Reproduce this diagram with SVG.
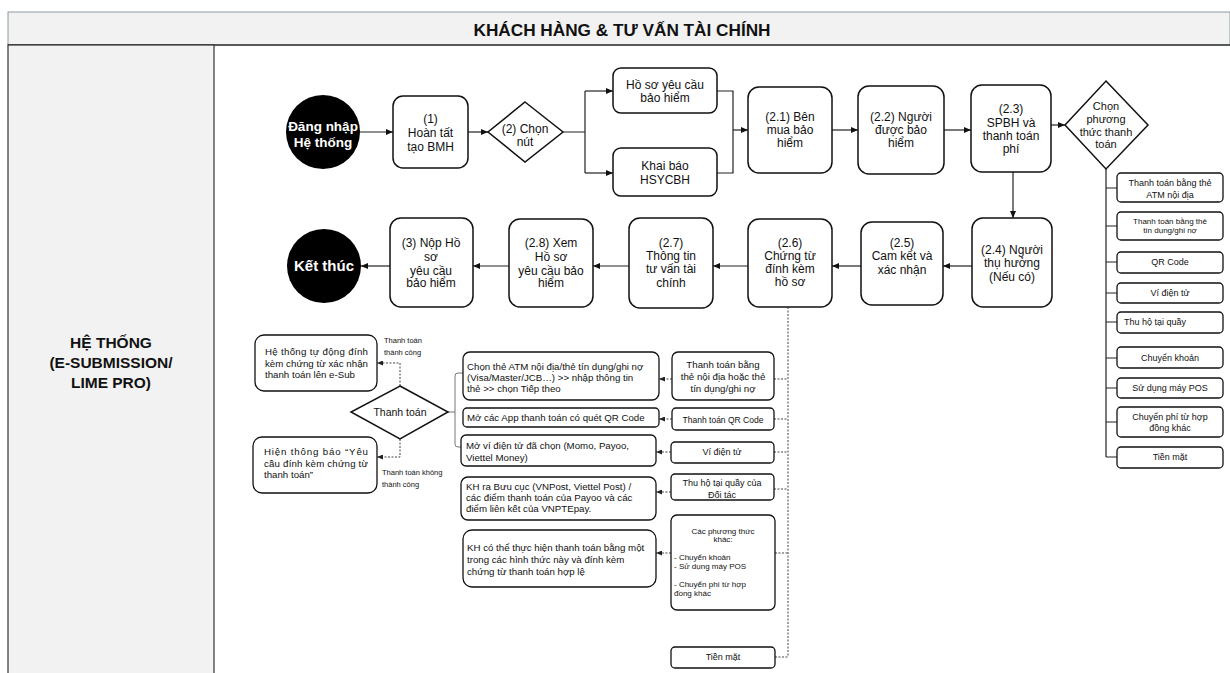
<svg xmlns="http://www.w3.org/2000/svg" width="1230" height="673" viewBox="0 0 1230 673">
<style>
text{font-family:"Liberation Sans",Arial,sans-serif;fill:#111}
.c{text-anchor:middle}
.m{font-size:12px}
.s{font-size:9px}
.xs{font-size:8px}
.b{font-size:9.7px}
.lb{font-size:7.5px}
.bx{fill:#fff;stroke:#111;stroke-width:1.5}
.sb{fill:#fff;stroke:#111;stroke-width:1.3}
.ln{fill:none;stroke:#222;stroke-width:1.2}
.dl{fill:none;stroke:#444;stroke-width:1;stroke-dasharray:2 1.5}
.gl{fill:none;stroke:#777;stroke-width:1}
.w{fill:#fff;font-weight:bold}
</style>
<defs>
<marker id="a" markerWidth="7" markerHeight="6" refX="7" refY="3" orient="auto" markerUnits="userSpaceOnUse"><path d="M0,0 L7,3 L0,6 Z" fill="#111"/></marker>
<marker id="d" markerWidth="6" markerHeight="5" refX="6" refY="2.5" orient="auto" markerUnits="userSpaceOnUse"><path d="M0,0 L6,2.5 L0,5 Z" fill="#222"/></marker>
</defs>
<rect x="0" y="0" width="1230" height="673" fill="#fff"/>
<g id="header">
<rect x="8" y="12" width="1222" height="33" fill="#f2f2f2" stroke="#8c9ba1" stroke-width="1"/>
<line x1="8" y1="45" x2="1230" y2="45" stroke="#333" stroke-width="1.5"/>
<text x="622" y="36" class="c" style="font-size:16px;font-weight:bold" textLength="297" lengthAdjust="spacingAndGlyphs">KHÁCH HÀNG &amp; TƯ VẤN TÀI CHÍNH</text>
</g>
<g id="lane">
<rect x="8" y="45" width="206" height="640" fill="#f2f2f2" stroke="#333" stroke-width="1.2"/>
<text class="c" x="111" y="348" style="font-size:15.5px;font-weight:bold">HỆ THỐNG</text>
<text class="c" x="111" y="368" style="font-size:15.5px;font-weight:bold">(E-SUBMISSION/</text>
<text class="c" x="111" y="388" style="font-size:15.5px;font-weight:bold">LIME PRO)</text>
</g>
<g id="connectors">
<path class="ln" d="M360,132 H393" marker-end="url(#a)"/>
<path class="ln" d="M468,132 H488" marker-end="url(#a)"/>
<path class="ln" d="M563,132 H585 M585,91 V173"/>
<path class="ln" d="M585,91 H613" marker-end="url(#a)"/>
<path class="ln" d="M585,173 H613" marker-end="url(#a)"/>
<path class="ln" d="M717,91 H733 V173 H717"/>
<path class="ln" d="M733,130 H748" marker-end="url(#a)"/>
<path class="ln" d="M832,130 H858" marker-end="url(#a)"/>
<path class="ln" d="M944,130 H971" marker-end="url(#a)"/>
<path class="ln" d="M1051,125 H1065" marker-end="url(#a)"/>
<path class="ln" d="M1013,172 V218" marker-end="url(#a)"/>
<path class="ln" d="M972,266 H943" marker-end="url(#a)"/>
<path class="ln" d="M861,266 H832" marker-end="url(#a)"/>
<path class="ln" d="M748,266 H713" marker-end="url(#a)"/>
<path class="ln" d="M629,266 H593" marker-end="url(#a)"/>
<path class="ln" d="M509,266 H473" marker-end="url(#a)"/>
<path class="ln" d="M390,266 H361" marker-end="url(#a)"/>
<path class="ln" d="M1106,169 V457 M1106,188 H1117 M1106,226 H1117 M1106,262 H1117 M1106,293 H1117 M1106,322 H1117 M1106,358 H1117 M1106,388 H1117 M1106,422 H1117 M1106,457 H1117"/>
<path class="dl" d="M788,307 V657 M774,379 H788 M774,419 H788 M774,452 H788 M774,489 H788 M775,553 H788 M775,657 H788"/>
<path class="dl" d="M672,379 H659" marker-end="url(#d)"/>
<path class="dl" d="M672,419 H659" marker-end="url(#d)"/>
<path class="dl" d="M671,452 H656" marker-end="url(#d)"/>
<path class="dl" d="M671,492 H656" marker-end="url(#d)"/>
<path class="dl" d="M671,553 H656" marker-end="url(#d)"/>
<path class="dl" d="M400,386 V363 H377" marker-end="url(#d)"/>
<path class="dl" d="M400,439 V457 H377" marker-end="url(#d)"/>
<path class="gl" d="M463,373 H458 Q455,373 455,376 V444 Q455,447 458,447 H461 M448,412 H455"/>
<text class="lb" x="384" y="343">Thanh toán</text>
<text class="lb" x="384" y="355">thành công</text>
<text class="lb" x="382" y="475">Thanh toán không</text>
<text class="lb" x="382" y="487">thành công</text>
</g>
<g id="start">
<circle cx="323" cy="132" r="37" fill="#000"/>
<text class="c w" x="323" y="131" style="font-size:13.5px">Đăng nhập</text>
<text class="c w" x="323" y="147" style="font-size:13.5px">Hệ thống</text>
</g>
<g id="n1">
<rect class="bx" x="393" y="96" width="75" height="72" rx="10"/>
<text class="c m" x="430.5" y="123">(1)</text>
<text class="c m" x="430.5" y="137">Hoàn tất</text>
<text class="c m" x="430.5" y="151">tạo BMH</text>
</g>
<g id="n2">
<polygon class="bx" points="525,102 563,132 525,162 488,132"/>
<text class="c m" x="525" y="133">(2) Chọn</text>
<text class="c m" x="525" y="146">nút</text>
</g>
<g id="hsycbh">
<rect class="bx" x="613" y="68" width="104" height="45" rx="8"/>
<text class="c m" x="665" y="89">Hồ sơ yêu cầu</text>
<text class="c m" x="665" y="102">bảo hiểm</text>
</g>
<g id="khaibao">
<rect class="bx" x="613" y="148" width="104" height="48" rx="8"/>
<text class="c m" x="665" y="170">Khai báo</text>
<text class="c m" x="665" y="184">HSYCBH</text>
</g>
<g id="n21">
<rect class="bx" x="748" y="87" width="84" height="86" rx="11"/>
<text class="c m" x="790" y="121">(2.1) Bên</text>
<text class="c m" x="790" y="134">mua bảo</text>
<text class="c m" x="790" y="147">hiểm</text>
</g>
<g id="n22">
<rect class="bx" x="858" y="86" width="86" height="88" rx="11"/>
<text class="c m" x="901" y="121">(2.2) Người</text>
<text class="c m" x="901" y="134">được bảo</text>
<text class="c m" x="901" y="147">hiểm</text>
</g>
<g id="n23">
<rect class="bx" x="971" y="85" width="80" height="87" rx="11"/>
<text class="c m" x="1011" y="113">(2.3)</text>
<text class="c m" x="1011" y="127">SPBH và</text>
<text class="c m" x="1011" y="140">thanh toán</text>
<text class="c m" x="1011" y="153">phí</text>
</g>
<g id="chonpttt">
<polygon class="bx" points="1106,81 1148,125 1106,169 1065,125"/>
<text class="c" x="1106" y="110" style="font-size:11px">Chọn</text>
<text class="c" x="1106" y="123" style="font-size:11px">phương</text>
<text class="c" x="1106" y="136" style="font-size:11px">thức thanh</text>
<text class="c" x="1106" y="148" style="font-size:11px">toán</text>
</g>
<g id="opt1"><rect class="sb" x="1117" y="173" width="106" height="29" rx="4"/><text class="c s" x="1170" y="186">Thanh toán bằng thẻ</text><text class="c s" x="1170" y="198">ATM nội địa</text></g>
<g id="opt2"><rect class="sb" x="1117" y="212" width="106" height="28" rx="4"/><text class="c xs" x="1170" y="224">Thanh toán bằng thẻ</text><text class="c xs" x="1170" y="233">tín dụng/ghi nợ</text></g>
<g id="opt3"><rect class="sb" x="1117" y="252" width="106" height="21" rx="4"/><text class="c s" x="1170" y="265">QR Code</text></g>
<g id="opt4"><rect class="sb" x="1117" y="283" width="106" height="20" rx="4"/><text class="c s" x="1170" y="296">Ví điện tử</text></g>
<g id="opt5"><rect class="sb" x="1117" y="312" width="106" height="21" rx="4"/><text class="s" x="1124" y="325">Thu hộ tại quầy</text></g>
<g id="opt6"><rect class="sb" x="1117" y="347" width="106" height="21" rx="4"/><text class="c s" x="1170" y="361">Chuyển khoản</text></g>
<g id="opt7"><rect class="sb" x="1117" y="378" width="106" height="20" rx="4"/><text class="c s" x="1170" y="391">Sử dụng máy POS</text></g>
<g id="opt8"><rect class="sb" x="1117" y="407" width="106" height="30" rx="4"/><text class="c s" x="1170" y="420">Chuyển phí từ hợp</text><text class="c s" x="1170" y="431">đồng khác</text></g>
<g id="opt9"><rect class="sb" x="1117" y="447" width="106" height="21" rx="4"/><text class="c s" x="1170" y="460">Tiền mặt</text></g>
<g id="n24">
<rect class="bx" x="972" y="218" width="80" height="89" rx="11"/>
<text class="c m" x="1012" y="254">(2.4) Người</text>
<text class="c m" x="1012" y="267">thụ hưởng</text>
<text class="c m" x="1012" y="281">(Nếu có)</text>
</g>
<g id="n25">
<rect class="bx" x="861" y="222" width="82" height="83" rx="11"/>
<text class="c m" x="902" y="247">(2.5)</text>
<text class="c m" x="902" y="260">Cam kết và</text>
<text class="c m" x="902" y="274">xác nhận</text>
</g>
<g id="n26">
<rect class="bx" x="748" y="219" width="84" height="88" rx="11"/>
<text class="c m" x="790" y="247">(2.6)</text>
<text class="c m" x="790" y="260">Chứng từ</text>
<text class="c m" x="790" y="273">đính kèm</text>
<text class="c m" x="790" y="286">hồ sơ</text>
</g>
<g id="n27">
<rect class="bx" x="629" y="218" width="84" height="90" rx="11"/>
<text class="c m" x="671" y="247">(2.7)</text>
<text class="c m" x="671" y="260">Thông tin</text>
<text class="c m" x="671" y="273">tư vấn tài</text>
<text class="c m" x="671" y="287">chính</text>
</g>
<g id="n28">
<rect class="bx" x="509" y="219" width="84" height="88" rx="11"/>
<text class="c m" x="551" y="247">(2.8) Xem</text>
<text class="c m" x="551" y="261">Hồ sơ</text>
<text class="c m" x="551" y="275">yêu cầu bảo</text>
<text class="c m" x="551" y="287">hiểm</text>
</g>
<g id="n3">
<rect class="bx" x="390" y="218" width="83" height="89" rx="11"/>
<text class="c m" x="431" y="247">(3) Nộp Hồ</text>
<text class="c m" x="431" y="261">sơ</text>
<text class="c m" x="431" y="275">yêu cầu</text>
<text class="c m" x="431" y="287">bảo hiểm</text>
</g>
<g id="end">
<circle cx="324" cy="266" r="37" fill="#000"/>
<text class="c w" x="324" y="271" style="font-size:15px">Kết thúc</text>
</g>
<g id="r1"><rect class="sb" x="672" y="352" width="102" height="48" rx="6"/><text class="c b" x="723" y="368">Thanh toán bằng</text><text class="c b" x="723" y="380">thẻ nội địa hoặc thẻ</text><text class="c b" x="723" y="392">tín dụng/ghi nợ</text></g>
<g id="r2"><rect class="sb" x="672" y="408" width="102" height="22" rx="4"/><text class="c" x="723" y="423" style="font-size:8.5px">Thanh toán QR Code</text></g>
<g id="r3"><rect class="sb" x="671" y="442" width="103" height="21" rx="4"/><text class="c s" x="722" y="455">Ví điện tử</text></g>
<g id="r4"><rect class="sb" x="671" y="474" width="103" height="26" rx="4"/><text class="c s" x="722" y="486">Thu hộ tại quầy của</text><text class="c s" x="722" y="498">Đối tác</text></g>
<g id="r5"><rect class="sb" x="671" y="515" width="104" height="95" rx="6"/>
<text class="c xs" x="723" y="534">Các phương thức</text><text class="c xs" x="723" y="542">khác:</text>
<text class="xs" x="674" y="560">- Chuyển khoản</text><text class="xs" x="674" y="569">- Sử dụng máy POS</text>
<text class="xs" x="674" y="587">- Chuyển phí từ hợp</text><text class="xs" x="674" y="596">đồng khác</text></g>
<g id="r6"><rect class="sb" x="671" y="647" width="104" height="21" rx="4"/><text class="c s" x="723" y="660">Tiền mặt</text></g>
<g id="l1"><rect class="sb" x="463" y="352" width="196" height="48" rx="7"/><text class="b" x="467" y="370">Chọn thẻ ATM nội địa/thẻ tín dụng/ghi nợ</text><text class="b" x="467" y="381">(Visa/Master/JCB…)  &gt;&gt; nhập thông tin</text><text class="b" x="467" y="392">thẻ &gt;&gt; chọn Tiếp theo</text></g>
<g id="l2"><rect class="sb" x="463" y="408" width="196" height="19" rx="4"/><text class="b" x="467" y="421">Mở các App thanh toán có quét QR Code</text></g>
<g id="l3"><rect class="sb" x="461" y="435" width="195" height="31" rx="5"/><text class="b" x="466" y="449">Mở ví điện tử đã chọn (Momo, Payoo,</text><text class="b" x="466" y="461">Viettel Money)</text></g>
<g id="l4"><rect class="sb" x="461" y="477" width="195" height="43" rx="7"/><text class="b" x="466" y="490">KH ra Bưu cục (VNPost, Viettel Post) /</text><text class="b" x="466" y="501">các điểm thanh toán của Payoo và các</text><text class="b" x="466" y="512">điểm liên kết của VNPTEpay.</text></g>
<g id="l5"><rect class="sb" x="463" y="530" width="193" height="57" rx="9"/><text class="b" x="467" y="551">KH có thể thực hiện thanh toán bằng một</text><text class="b" x="467" y="563">trong các hình thức này và đính kèm</text><text class="b" x="467" y="575">chứng từ thanh toán hợp lệ</text></g>
<g id="thanhtoan"><polygon class="bx" points="400,386 448,412 400,439 351,412"/><text class="c" x="400" y="416" style="font-size:10.5px">Thanh toán</text></g>
<g id="ok"><rect class="sb" x="255" y="335" width="122" height="56" rx="9"/><text class="b" x="265" y="355" textLength="103" lengthAdjust="spacing">Hệ thống tự động đính</text><text class="b" x="265" y="367" textLength="103" lengthAdjust="spacing">kèm chứng từ xác nhận</text><text class="b" x="265" y="378">thanh toán lên e-Sub</text></g>
<g id="fail"><rect class="sb" x="253" y="437" width="124" height="56" rx="9"/><text class="b" x="264" y="455" textLength="104" lengthAdjust="spacing">Hiện thông báo “Yêu</text><text class="b" x="264" y="467" textLength="104" lengthAdjust="spacing">cầu đính kèm chứng từ</text><text class="b" x="264" y="478">thanh toán”</text></g>
</svg>
